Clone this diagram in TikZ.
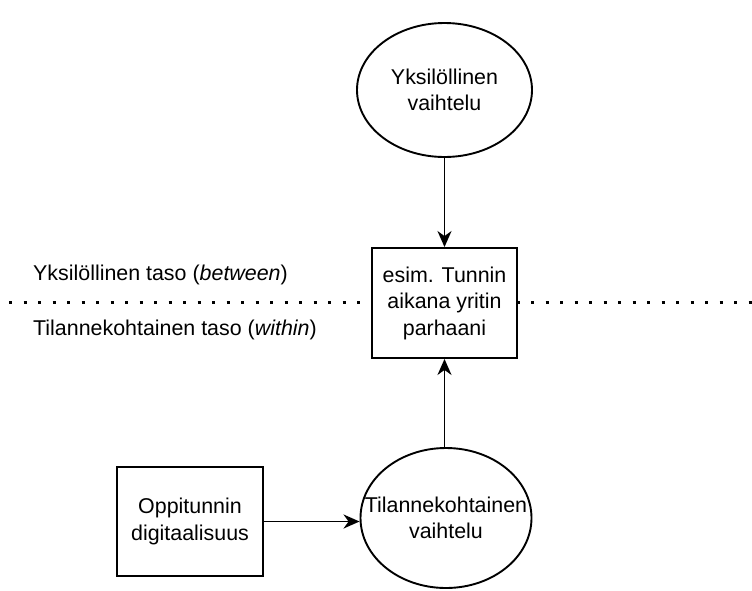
\documentclass[tikz,border=0pt]{standalone}
\usepackage{fontspec}
\setmainfont{Liberation Sans}
\usetikzlibrary{shapes.geometric,arrows.meta}
\begin{document}
\begin{tikzpicture}[x=1pt,y=-1pt,
  every node/.style={font=\fontsize{21.4}{26.5}\selectfont, text=black},
  boxnode/.style={draw, line width=1.9pt, fill=white, rectangle, inner sep=0pt},
  ellnode/.style={draw, line width=1.9pt, fill=white, ellipse, inner sep=0pt},
  txt/.style={align=center, inner sep=0pt},
  arr/.style={line width=1.9pt, -{Stealth[length=16pt, width=14pt, inset=5pt]}},
  levelsep/.style={line width=3pt, dash pattern=on 3pt off 11.5pt},
  lvl/.style={anchor=west, inner sep=0pt}
]
\useasboundingbox (0,0) rectangle (752,590);

% level separator (drawn first, the boxes cover it)
\coordinate (sepL) at (9,302);
\coordinate (sepR) at (753,302);
\draw[levelsep] (sepL) -- (sepR);

% level labels
\node[lvl] (between) at (33,275) {Yksilöllinen taso (\textit{between})};
\node[lvl] (within) at (33,330) {Tilannekohtainen taso (\textit{within})};

% nodes
\node[ellnode, minimum width=175pt, minimum height=134pt] (indiv) at (444.5,90) {};
\node[txt] (indivtxt) at (indiv) {Yksilöllinen\\vaihtelu};

\node[boxnode, minimum width=145pt, minimum height=110pt] (outcome) at (444.5,303) {};
\node[txt] (outcometxt) at (outcome) {esim. Tunnin\\aikana yritin\\parhaani};

\node[ellnode, minimum width=171pt, minimum height=140pt] (situ) at (446,518) {};
\node[txt] (situtxt) at (situ) {Tilannekohtainen\\vaihtelu};

\node[boxnode, minimum width=146pt, minimum height=109pt] (digi) at (190,521.5) {};
\node[txt] (digitxt) at (digi) {Oppitunnin\\digitaalisuus};

% connectors
\draw[arr] (indiv.south) -- (outcome.north);
\draw[arr] (situ.north -| outcome.south) -- (outcome.south);
\draw[arr] (digi.east) -- (digi.east -| situ.west);
\end{tikzpicture}
\end{document}
